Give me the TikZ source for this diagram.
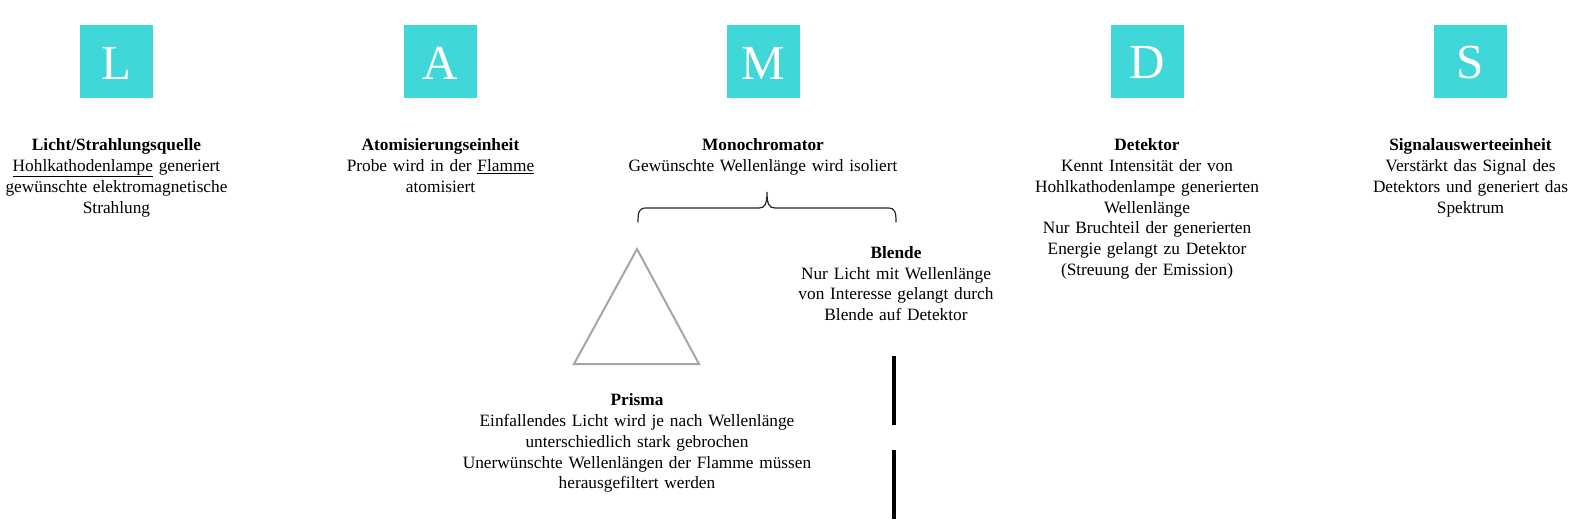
\documentclass[tikz,border=0pt]{standalone}
\usepackage{fontspec}
\setmainfont{Liberation Serif}
\definecolor{tq}{HTML}{3FD7D7}
\definecolor{prismgray}{HTML}{A6A6A6}
\hyphenpenalty=10000
\exhyphenpenalty=10000
\begin{document}
\begin{tikzpicture}[x=1pt,y=-1pt,
  letterbox/.style={fill=tq,minimum width=73pt,minimum height=73pt,inner sep=0pt},
  letter/.style={text=white,font=\fontsize{49}{49}\selectfont,inner sep=0pt},
  desc/.style={anchor=base,inner sep=0pt,text width=460pt,align=center,font=\fontsize{17.3}{20.8}\selectfont},
  bar/.style={line width=4pt,black}
]
\useasboundingbox (0,0) rectangle (1573,530);
\fill[white] (0,0) rectangle (1573,530);

% squares
\node[letterbox] (bL) at (116.5,61.5) {};
\node[letterbox] (bA) at (440.5,61.5) {};
\node[letterbox] (bM) at (763,61.5) {};
\node[letterbox] (bD) at (1147,61.5) {};
\node[letterbox] (bS) at (1470.5,61.5) {};
\node[letter] (lL) at (116.5,63) {L};
\node[letter] (lA) at (440.5,63) {A};
\node[letter] (lM) at (763,63) {M};
\node[letter] (lD) at (1147,63) {D};
\node[letter] (lS) at (1470.5,63) {S};

% descriptions
\node[desc] (tL) at (116.5,150.7) {\textbf{Licht/Strahlungsquelle}\\\underline{Hohlkathodenlampe} generiert\\gewünschte elektromagnetische\\Strahlung};
\node[desc] (tA) at (440.5,150.7) {\textbf{Atomisierungseinheit}\\Probe wird in der \underline{Flamme}\\atomisiert};
\node[desc] (tM) at (763,150.7) {\textbf{Monochromator}\\Gewünschte Wellenlänge wird isoliert};
\node[desc] (tD) at (1147,150.7) {\textbf{Detektor}\\Kennt Intensität der von\\Hohlkathodenlampe generierten\\Wellenlänge\\Nur Bruchteil der generierten\\Energie gelangt zu Detektor\\(Streuung der Emission)};
\node[desc] (tS) at (1470.5,150.7) {\textbf{Signalauswerteeinheit}\\Verstärkt das Signal des\\Detektors und generiert das\\Spektrum};

% brace
\draw[line width=1.2pt,black!85,line cap=round]
  (638,222) .. controls (638,212) and (639,208) .. (646,208) -- (759,208)
  .. controls (765,208) and (767,204) .. (767,192)
  .. controls (767,204) and (769,208) .. (775,208) -- (888,208)
  .. controls (895,208) and (896,212) .. (896,222);

% prism
\coordinate (pTop) at (637,249);
\coordinate (pLeft) at (574,364);
\coordinate (pRight) at (699,364);
\draw[prismgray,line width=2pt,line join=miter] (pTop) -- (pLeft) -- (pRight) -- cycle;
\node[desc] (tP) at (637,405.7) {\textbf{Prisma}\\Einfallendes Licht wird je nach Wellenlänge\\unterschiedlich stark gebrochen\\Unerwünschte Wellenlängen der Flamme müssen\\herausgefiltert werden};

% Blende
\node[desc] (tB) at (896,258.3) {\textbf{Blende}\\Nur Licht mit Wellenlänge\\von Interesse gelangt durch\\Blende auf Detektor};
\coordinate (b1a) at (893.5,356);
\coordinate (b1b) at (893.5,425);
\coordinate (b2a) at (893.5,450);
\coordinate (b2b) at (893.5,519);
\draw[bar] (b1a) -- (b1b);
\draw[bar] (b2a) -- (b2b);
\end{tikzpicture}
\end{document}
